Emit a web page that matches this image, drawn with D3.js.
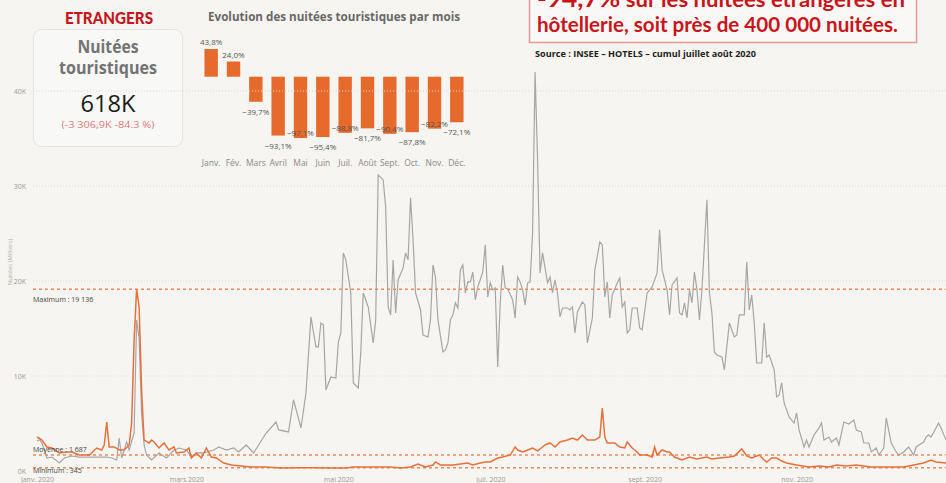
<!DOCTYPE html>
<html>
<head>
<meta charset="utf-8">
<script src="https://cdn.jsdelivr.net/npm/d3@7"></script>
<style>
    body { margin: 0; background: #f6f5f1; }
    svg { display: block; font-family: "Open Sans", sans-serif; }
    .axis path, .axis line { display: none; }
    .axis text { fill: #9a9a9a; font-size: 7px; font-family: "Open Sans", sans-serif; }
</style>
</head>
<body>
<svg width="946" height="483"></svg>
<script>
    // petit graphique : evolution par mois
    var mois = ["Janv.", "Fév.", "Mars", "Avril", "Mai", "Juin", "Juil.", "Août", "Sept.", "Oct.", "Nov.", "Déc."];
    var evolutionMois = [43.8, 24.0, -39.7, -93.1, -97.1, -95.4, -88.8, -81.7, -90.4, -87.8, -82.2, -72.1];

    // grand graphique : nuitées par jour (jour de l'annee, valeur)
    var yTicks = [0, 10000, 20000, 30000, 40000];
    var xTickMois = [0, 2, 4, 6, 8, 10];
    var xTickLabels = ["janv. 2020", "mars 2020", "mai 2020", "juil. 2020", "sept. 2020", "nov. 2020"];
    var refNoms = ["Maximum", "Moyenne", "Minimum"];
    var refValeurs = [19136, 1687, 345];

    var nuitees2019 = [[0,3160],[1,3300],[2,2950],[4,1370],[6,1470],[9,840],[11,1370],[14,1580],[17,1470],[20,1470],
        [24,1470],[28,1470],[30,1370],[32,1160],[33,3470],[34,1370],[36,3050],[37,2210],[39,4000],[40,15900],
        [41,14000],[42,6000],[43,2740],[44,1680],[46,1160],[49,1900],[52,1370],[55,2210],[57,2420],[60,2210],
        [62,1470],[64,1900],[67,1900],[71,2210],[73,2530],[76,2210],[79,2420],[81,2000],[84,2740],[87,1900],
        [89,2740],[92,4000],[96,5160],[97,4320],[101,4110],[103,7500],[106,4530],[108,8210],[110,16220],[112,13060],
        [113,13060],[114,15580],[115,15370],[116,8530],[118,9900],[120,9790],[121,13580],[122,14530],[123,22960],[124,22220],
        [126,18740],[127,9270],[129,8740],[130,12430],[131,18740],[133,17270],[135,13480],[136,15900],[137,31170],[139,30640],
        [140,27800],[141,17270],[142,16430],[143,22220],[144,16640],[145,20110],[147,21380],[148,22960],[149,22220],[150,28750],
        [151,24320],[152,18740],[154,16950],[155,14320],[157,14110],[158,15900],[159,21690],[160,20430],[161,15900],[163,12530],
        [164,12740],[165,13480],[166,15900],[167,16430],[168,17690],[169,17160],[170,21170],[171,21690],[172,18740],[173,19900],
        [174,19900],[175,20950],[176,18010],[177,19380],[179,20950],[180,23800],[181,18320],[182,19800],[183,19060],[184,19270],
        [185,10950],[186,17690],[187,21690],[188,19270],[189,19160],[191,18010],[192,16110],[193,20430],[194,19900],[195,19060],
        [196,17480],[197,19800],[198,19900],[199,25060],[200,42010],[201,32750],[202,20850],[203,22960],[205,19800],[206,20430],
        [207,18740],[208,20110],[209,18740],[210,16220],[211,17160],[213,17160],[214,16950],[215,17270],[216,14530],[217,16740],
        [219,17800],[220,17480],[221,13480],[223,16110],[224,21170],[226,24110],[227,23800],[228,18320],[229,19900],[230,16110],
        [231,18530],[233,19800],[234,20320],[235,17270],[236,17800],[237,14530],[238,14850],[239,17160],[241,17160],[242,15060],
        [243,14850],[245,18740],[246,19060],[247,19380],[249,20850],[250,25380],[251,21170],[253,19060],[254,16430],[255,19590],
        [257,20320],[258,16640],[259,16430],[260,17690],[261,16110],[262,19060],[263,17690],[264,20950],[265,19060],[266,15900],
        [267,19060],[269,28540],[270,18740],[271,16640],[272,12530],[273,12210],[275,12000],[276,10640],[278,15580],[280,14110],
        [281,14320],[282,16430],[284,16430],[285,22010],[286,16950],[287,18530],[288,15580],[289,11370],[291,11370],[292,15580],
        [293,12000],[294,12210],[296,10640],[297,7800],[298,8000],[299,9270],[300,7160],[302,5690],[304,5050],[305,6110],
        [306,4320],[308,2530],[309,3260],[310,2530],[312,3790],[314,4530],[315,5050],[316,3260],[318,3580],[319,3050],
        [321,3470],[322,2740],[324,5160],[326,4950],[328,5370],[329,4320],[331,4110],[332,2950],[334,2950],[335,2000],
        [337,2420],[338,1680],[340,2420],[341,5580],[343,2950],[345,2000],[346,1680],[348,2000],[350,2530],[352,1680],
        [353,2530],[356,3050],[357,3580],[358,3790],[359,3580],[361,4530],[362,5050],[363,4530],[365,3260]];

    var nuitees2020 = [[0,3580],[2,3260],[4,2530],[6,2420],[9,1900],[12,2000],[14,2000],[17,1680],[21,1680],[24,2420],
        [26,2210],[27,2740],[28,5160],[29,2530],[31,2530],[33,2210],[35,2210],[37,2740],[38,5050],[39,13790],
        [40,19136],[41,17270],[42,8530],[43,3260],[45,2950],[46,3260],[47,3050],[49,2420],[51,2950],[53,2210],
        [55,2530],[56,1900],[59,2000],[61,2420],[62,1370],[64,1900],[66,1370],[68,2420],[70,1470],[72,1370],
        [75,840],[78,630],[82,530],[86,420],[92,420],[98,320],[104,345],[111,350],[118,320],[124,320],
        [127,420],[131,420],[136,420],[142,420],[146,320],[150,420],[153,740],[156,420],[159,630],[160,950],
        [162,630],[167,630],[170,740],[173,840],[175,630],[178,840],[180,950],[182,950],[185,1370],[187,1470],
        [190,1680],[192,2530],[193,2210],[195,2000],[197,2210],[199,2420],[201,2110],[203,2530],[204,2740],[206,2950],
        [208,2530],[210,3050],[213,3260],[215,3470],[217,3260],[219,3790],[221,3260],[224,3260],[226,3580],[227,6630],
        [228,3580],[229,2950],[232,2950],[234,2530],[236,2420],[237,3050],[239,2420],[241,2000],[242,1680],[245,1680],
        [247,1470],[248,2530],[249,1680],[251,2210],[253,2000],[254,2000],[256,1470],[259,1160],[262,1470],[265,1260],
        [267,1370],[269,1470],[271,1260],[274,1370],[278,1470],[280,1580],[283,2320],[285,1580],[287,1370],[290,1680],
        [292,1160],[293,950],[295,1370],[297,1370],[299,1050],[301,840],[305,630],[310,420],[314,530],[318,420],
        [321,630],[325,530],[329,630],[335,420],[341,420],[348,420],[352,630],[356,840],[359,1160],[361,950],[365,840]];

    var svg = d3.select("svg");
    var debut = new Date(2020, 0, 1);
    var fr = d3.formatLocale({ decimal: ",", thousands: " ", grouping: [3], currency: ["", " €"] });

    // ---- en-tete gauche : carte ----
    svg.append("text")
        .attr("x", 109).attr("y", 24)
        .attr("text-anchor", "middle")
        .attr("textLength", 88).attr("lengthAdjust", "spacingAndGlyphs")
        .style("font-family", "Lato, sans-serif").style("font-weight", "900")
        .style("font-size", "17px").style("fill", "#c4161c")
        .text("ETRANGERS");

    svg.append("rect")
        .attr("x", 33.5).attr("y", 29.5)
        .attr("width", 149).attr("height", 117)
        .attr("rx", 8)
        .style("fill", "#f8f8f6").style("stroke", "#e4e4e2");

    var carte = [
        { t: "Nuitées", y: 53, w: 61, size: 17, weight: "700", color: "#737373" },
        { t: "touristiques", y: 74, w: 98, size: 17, weight: "700", color: "#737373" },
        { t: "618K", y: 112, w: 55, size: 24, weight: "400", color: "#1c1c1c" },
        { t: "(-3 306,9K -84.3 %)", y: 128, w: 93, size: 9.5, weight: "400", color: "#e07a7a" }
    ];
    svg.selectAll(".carte")
        .data(carte)
        .enter().append("text")
        .attr("class", "carte")
        .attr("x", 108).attr("y", function(d) { return d.y; })
        .attr("text-anchor", "middle")
        .attr("textLength", function(d) { return d.w; })
        .attr("lengthAdjust", "spacingAndGlyphs")
        .style("font-size", function(d) { return d.size + "px"; })
        .style("font-weight", function(d) { return d.weight; })
        .style("fill", function(d) { return d.color; })
        .text(function(d) { return d.t; });

    // ---- petit graphique en barres ----
    svg.append("text")
        .attr("x", 208).attr("y", 21)
        .attr("textLength", 252).attr("lengthAdjust", "spacingAndGlyphs")
        .style("font-weight", "700").style("font-size", "11.5px").style("fill", "#686868")
        .text("Evolution des nuitées touristiques par mois");

    var xb = d3.scaleBand().domain(mois).range([200, 468]).paddingInner(0.4).paddingOuter(0.2),
        yb = d3.scaleLinear().domain([-100, 50]).range([139.9, 45.1]);

    var barres = svg.append("g");
    barres.selectAll(".bar")
        .data(evolutionMois)
        .enter().append("rect")
        .attr("class", "bar")
        .attr("x", function(d, i) { return xb(mois[i]); })
        .attr("y", function(d) { return yb(Math.max(0, d)); })
        .attr("width", xb.bandwidth())
        .attr("height", function(d) { return Math.abs(yb(d) - yb(0)); })
        .style("fill", "#e66a2c");

    barres.selectAll(".lbl")
        .data(evolutionMois)
        .enter().append("text")
        .attr("class", "lbl")
        .attr("x", function(d, i) { return xb(mois[i]) + xb.bandwidth() / 2; })
        .attr("y", function(d, i) {
            if (d >= 0) return yb(d) - 4;
            // Power BI alterne les etiquettes pour eviter les chevauchements
            if (i >= 4 && i % 2 === 0) return yb(d) - 2;
            return yb(d) + 13;
        })
        .attr("text-anchor", "middle")
        .style("font-size", "8px").style("fill", "#555")
        .text(function(d) { return fr.format(".1f")(d) + "%"; });

    barres.selectAll(".mois")
        .data(mois)
        .enter().append("text")
        .attr("class", "mois")
        .attr("x", function(d) { return xb(d) + xb.bandwidth() / 2; })
        .attr("y", 166)
        .attr("text-anchor", "middle")
        .style("font-size", "8.5px").style("fill", "#8a8a8a")
        .text(function(d) { return d; });

    // ---- encadre rouge + source ----
    svg.append("rect")
        .attr("x", 529.5).attr("y", -10)
        .attr("width", 387).attr("height", 52.5)
        .style("fill", "#faf8f6").style("stroke", "#e39a9a").style("stroke-width", 1.5);

    var l1 = svg.append("text")
        .attr("x", 537).attr("y", 7)
        .attr("textLength", 368).attr("lengthAdjust", "spacingAndGlyphs")
        .style("font-family", "Lato, sans-serif").style("font-weight", "700")
        .style("font-size", "21px").style("fill", "#c8141b");
    l1.append("tspan").style("font-size", "25px").text("-94,7%");
    l1.append("tspan").text(" sur les nuitées étrangères en");

    svg.append("text")
        .attr("x", 537).attr("y", 31.5)
        .attr("textLength", 361).attr("lengthAdjust", "spacingAndGlyphs")
        .style("font-family", "Lato, sans-serif").style("font-weight", "700")
        .style("font-size", "21px").style("fill", "#c8141b")
        .text("hôtellerie, soit près de 400 000 nuitées.");

    svg.append("text")
        .attr("x", 535).attr("y", 56.5)
        .attr("textLength", 221).attr("lengthAdjust", "spacingAndGlyphs")
        .style("font-weight", "700").style("font-size", "8px").style("fill", "#222")
        .text("Source : INSEE – HOTELS – cumul juillet août 2020");

    // ---- grand graphique lineaire ----
    var x = d3.scaleTime().domain([debut, new Date(2020, 11, 31)]).range([37, 946]),
        y = d3.scaleLinear().domain([0, 40000]).range([471, 91]);

    function jour(d) { return d3.timeDay.offset(debut, d[0]); }

    svg.append("g")
        .selectAll("line")
        .data(yTicks.slice(1))
        .enter().append("line")
        .attr("x1", 33).attr("x2", 946)
        .attr("y1", function(d) { return y(d); })
        .attr("y2", function(d) { return y(d); })
        .style("stroke", "#d9d9d7").style("stroke-dasharray", "1,2");

    svg.append("g")
        .attr("class", "axis axis--y")
        .attr("transform", "translate(26,0)")
        .call(d3.axisLeft(y).tickValues(yTicks).tickSize(0).tickPadding(0)
            .tickFormat(function(d) { return (d / 1000) + "K"; }));

    svg.append("g")
        .attr("class", "axis axis--x")
        .attr("transform", "translate(0,477)")
        .call(d3.axisBottom(x)
            .tickValues(xTickMois.map(function(m) { return new Date(2020, m, 1); }))
            .tickSize(0).tickPadding(0)
            .tickFormat(function(d, i) { return xTickLabels[i]; }));

    svg.append("text")
        .attr("transform", "translate(12,262) rotate(-90)")
        .attr("text-anchor", "middle")
        .style("font-size", "6px").style("fill", "#b0b0b0")
        .text("Nuitées (Milliers)");

    var line = d3.line()
        .x(function(d) { return x(jour(d)); })
        .y(function(d) { return y(d[1]); });

    svg.append("path")
        .datum(nuitees2019)
        .attr("d", line)
        .style("fill", "none").style("stroke", "#a6a6a6").style("stroke-width", 1.2);

    // lignes de reference (serie 2020)
    var refDy = [12.5, -3, 5];
    svg.selectAll(".ref")
        .data(refValeurs)
        .enter().append("line")
        .attr("class", "ref")
        .attr("x1", 33).attr("x2", 946)
        .attr("y1", function(d) { return y(d); })
        .attr("y2", function(d) { return y(d); })
        .style("stroke", "#ec8a5f").style("stroke-width", 1.5).style("stroke-dasharray", "3,3");

    svg.append("path")
        .datum(nuitees2020)
        .attr("d", line)
        .style("fill", "none").style("stroke", "#e8703a").style("stroke-width", 1.5);

    svg.selectAll(".reflbl")
        .data(refValeurs)
        .enter().append("text")
        .attr("class", "reflbl")
        .attr("x", 33)
        .attr("y", function(d, i) { return y(d) + refDy[i]; })
        .style("font-size", "7px").style("fill", "#444")
        .text(function(d, i) { return refNoms[i] + " : " + fr.format(",")(d); });
</script>
</body>
</html>
